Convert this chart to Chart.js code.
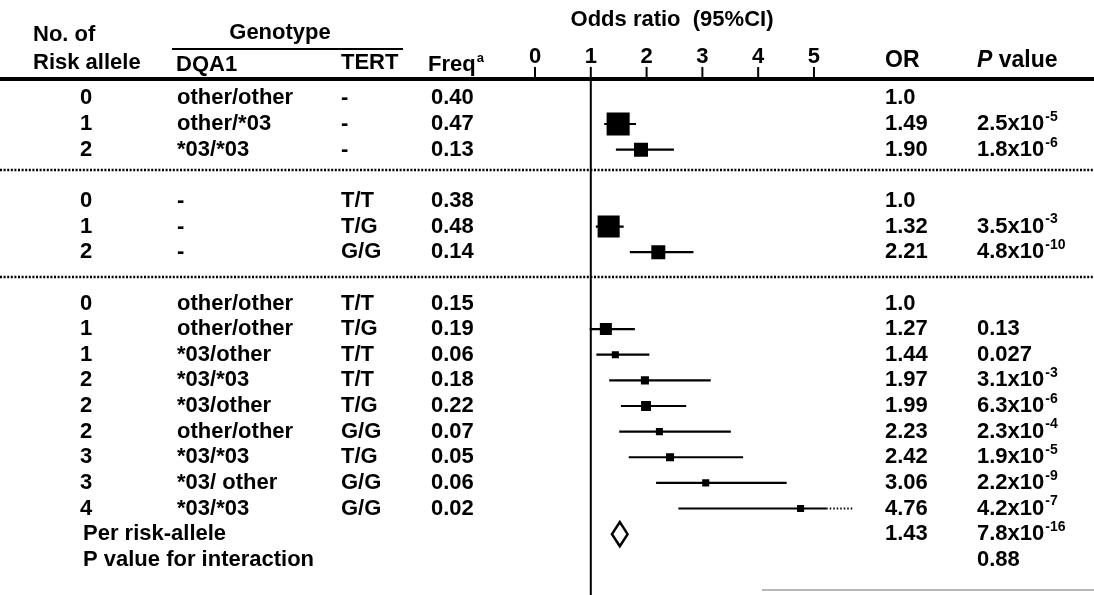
<!DOCTYPE html>
<html>
<head>
<meta charset="utf-8">
<script src="https://cdn.jsdelivr.net/npm/chart.js@4/dist/chart.umd.min.js"></script>
<style>
    html, body { margin: 0; padding: 0; background: #fff; }
    #wrap { position: relative; width: 1094px; height: 595px; }
</style>
</head>
<body>
<div id="wrap"><canvas id="forest"></canvas></div>
<script>
// table rows (row index 3 and 7 are the gaps with the dotted separators)
var rowIndex   = [0, 1, 2, 4, 5, 6, 8, 9, 10, 11, 12, 13, 14, 15, 16];
var riskAllele = ['0', '1', '2', '0', '1', '2', '0', '1', '1', '2', '2', '2', '3', '3', '4'];
var dqa1       = ['other/other', 'other/*03', '*03/*03', '-', '-', '-', 'other/other', 'other/other',
                  '*03/other', '*03/*03', '*03/other', 'other/other', '*03/*03', '*03/ other', '*03/*03'];
var tert       = ['-', '-', '-', 'T/T', 'T/G', 'G/G', 'T/T', 'T/G', 'T/T', 'T/T', 'T/G', 'G/G', 'T/G', 'G/G', 'G/G'];
var freq       = ['0.40', '0.47', '0.13', '0.38', '0.48', '0.14', '0.15', '0.19', '0.06', '0.18', '0.22',
                  '0.07', '0.05', '0.06', '0.02'];
var orValues   = [1.0, 1.49, 1.90, 1.0, 1.32, 2.21, 1.0, 1.27, 1.44, 1.97, 1.99, 2.23, 2.42, 3.06, 4.76];
var orLabels   = ['1.0', '1.49', '1.90', '1.0', '1.32', '2.21', '1.0', '1.27', '1.44', '1.97', '1.99',
                  '2.23', '2.42', '3.06', '4.76'];
var ciLow      = [null, 1.24, 1.45, null, 1.09, 1.70, null, 0.98, 1.10, 1.33, 1.54, 1.51, 1.68, 2.17, 2.57];
var ciHigh     = [null, 1.81, 2.49, null, 1.59, 2.84, null, 1.79, 2.05, 3.15, 2.71, 3.51, 3.73, 4.51, 5.22];
var ciDottedTo = [null, null, null, null, null, null, null, null, null, null, null, null, null, null, 5.69];
var pBase      = ['', '2.5x10', '1.8x10', '', '3.5x10', '4.8x10', '', '0.13', '0.027', '3.1x10', '6.3x10',
                  '2.3x10', '1.9x10', '2.2x10', '4.2x10'];
var pExp       = ['', '-5', '-6', '', '-3', '-10', '', '', '', '-3', '-6', '-4', '-5', '-9', '-7'];

// summary rows
var perAlleleRow = 17;
var perAlleleOR = '1.43';
var perAlleleLow = 1.38;
var perAlleleHigh = 1.66;
var perAlleleP = ['7.8x10', '-16'];
var interactionRow = 18;
var interactionP = '0.88';

var tickValues = [0, 1, 2, 3, 4, 5];

// square sizes follow the weight of each estimate (reference rows get none)
var boxRadius = [0, 16.3, 9.9, 0, 15.6, 9.9, 0, 8.5, 5, 5.7, 7, 5, 5.7, 5, 5];

var FONT = '"Liberation Sans", Arial, sans-serif';
var W = 1094, H = 595;
var RULE_Y = 79;

function put(ctx, s, x, y, size, align, style) {
    ctx.font = (style || 'bold') + ' ' + size + 'px ' + FONT;
    ctx.textAlign = align || 'left';
    ctx.textBaseline = 'middle';
    ctx.fillText(s, x, y);
    return ctx.measureText(s).width;
}

function putPow(ctx, base, exp, x, y) {
    var w = put(ctx, base, x, y, 22);
    if (exp) {
        put(ctx, exp, x + w + 1, y - 7, 14);
    }
}

var tablePlugin = {
    id: 'forestTable',
    beforeDatasetsDraw: function (chart) {
        var ctx = chart.ctx;
        var xs = chart.scales.x, ys = chart.scales.y;
        var area = chart.chartArea;
        ctx.save();
        ctx.fillStyle = '#000';
        ctx.strokeStyle = '#000';

        // header
        put(ctx, 'No. of', 33, 35, 22);
        put(ctx, 'Risk allele', 33, 63, 22);
        put(ctx, 'Genotype', 280, 33, 22, 'center');
        ctx.fillRect(172, 48, 231, 2);
        put(ctx, 'DQA1', 176, 65, 22);
        put(ctx, 'TERT', 341, 63, 22);
        var fw = put(ctx, 'Freq', 428, 65, 22);
        put(ctx, 'a', 428 + fw + 1, 58, 13);
        put(ctx, 'Odds ratio  (95%CI)', 672, 20, 22, 'center');
        put(ctx, 'OR', 885, 61, 23);
        var pw = put(ctx, 'P', 977, 61, 23, 'left', 'italic bold');
        put(ctx, ' value', 977 + pw, 61, 23);

        // axis ticks above the rule
        tickValues.forEach(function (v) {
            var px = xs.getPixelForValue(v);
            put(ctx, String(v), px, 57, 22, 'center');
            ctx.fillRect(px - 1, 67, 2, 10);
        });

        // thick rule and dotted separators
        ctx.fillRect(0, RULE_Y - 2, W, 4);
        ctx.lineWidth = 2.5;
        ctx.setLineDash([2, 1.6]);
        [2.81, 6.96].forEach(function (r) {
            var py = Math.round(ys.getPixelForValue(r));
            ctx.beginPath();
            ctx.moveTo(0, py);
            ctx.lineTo(W, py);
            ctx.stroke();
        });
        ctx.setLineDash([]);

        // reference line at OR = 1
        var x1 = xs.getPixelForValue(1);
        ctx.fillRect(x1 - 1, area.top, 2, H - area.top);

        // table body
        rowIndex.forEach(function (r, i) {
            var py = ys.getPixelForValue(r);
            put(ctx, riskAllele[i], 86, py, 22, 'center');
            put(ctx, dqa1[i], 177, py, 22);
            put(ctx, tert[i], 341, py, 22);
            put(ctx, freq[i], 431, py, 22);
            put(ctx, orLabels[i], 885, py, 22);
            putPow(ctx, pBase[i], pExp[i], 977, py);
        });

        var pyA = ys.getPixelForValue(perAlleleRow);
        put(ctx, 'Per risk-allele', 83, pyA, 22);
        put(ctx, perAlleleOR, 885, pyA, 22);
        putPow(ctx, perAlleleP[0], perAlleleP[1], 977, pyA);
        var pyI = ys.getPixelForValue(interactionRow);
        put(ctx, 'P value for interaction', 83, pyI, 22);
        put(ctx, interactionP, 977, pyI, 22);

        // faint scan edge at the bottom right
        ctx.fillStyle = '#b8b8b8';
        ctx.fillRect(762, 589, W - 762, 2);
        ctx.restore();
    },
    afterDatasetsDraw: function (chart) {
        // open diamond for the per-allele estimate, spanning its CI
        var ctx = chart.ctx;
        var xs = chart.scales.x, ys = chart.scales.y;
        var cy = ys.getPixelForValue(perAlleleRow);
        var cx = xs.getPixelForValue((perAlleleLow + perAlleleHigh) / 2);
        ctx.save();
        ctx.lineWidth = 2.5;
        ctx.strokeStyle = '#000';
        ctx.beginPath();
        ctx.moveTo(xs.getPixelForValue(perAlleleLow), cy);
        ctx.lineTo(cx, cy - 12);
        ctx.lineTo(xs.getPixelForValue(perAlleleHigh), cy);
        ctx.lineTo(cx, cy + 12);
        ctx.closePath();
        ctx.stroke();
        ctx.restore();
    }
};

var datasets = [];
rowIndex.forEach(function (r, i) {
    if (ciLow[i] === null) return;
    datasets.push({
        type: 'line',
        data: [{x: ciLow[i], y: r}, {x: ciHigh[i], y: r}],
        borderColor: '#000',
        borderWidth: 2.2,
        pointRadius: 0
    });
    if (ciDottedTo[i] !== null) {
        datasets.push({
            type: 'line',
            data: [{x: ciHigh[i], y: r}, {x: ciDottedTo[i], y: r}],
            borderColor: '#000',
            borderWidth: 2,
            borderDash: [1.5, 2],
            pointRadius: 0
        });
    }
});
datasets.push({
    type: 'scatter',
    data: rowIndex.map(function (r, i) { return {x: orValues[i], y: r}; }),
    pointStyle: 'rect',
    pointRadius: boxRadius,
    backgroundColor: '#000',
    borderColor: '#000',
    borderWidth: 0
});

new Chart(document.getElementById('forest'), {
    type: 'scatter',
    data: { datasets: datasets },
    options: {
        responsive: true,
        maintainAspectRatio: false,
        animation: false,
        layout: { padding: { left: 535, right: W - 858.6, top: 79, bottom: 0 } },
        plugins: { legend: { display: false }, tooltip: { enabled: false } },
        scales: {
            x: { type: 'linear', min: 0, max: 5.8, display: false },
            y: { type: 'linear', reverse: true, min: -0.756, max: 18.738, display: false }
        }
    },
    plugins: [tablePlugin]
});
</script>
</body>
</html>
